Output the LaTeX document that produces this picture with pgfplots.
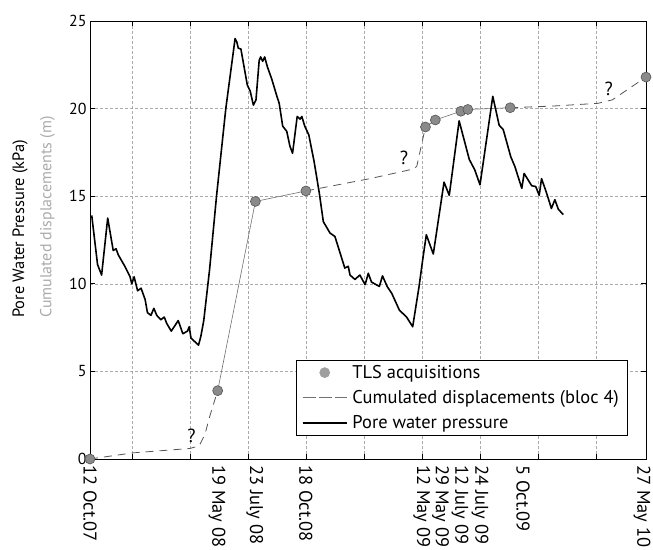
\documentclass[border=0pt]{standalone}
\usepackage{fontspec}
\setmainfont{PT Sans}
\usepackage{pgfplots}
\pgfplotsset{compat=1.18}
\definecolor{dotfill}{HTML}{8A8A8A}
\definecolor{dotedge}{HTML}{555555}
\definecolor{dispdash}{HTML}{555555}
\definecolor{dispsolid}{HTML}{707070}
\definecolor{gridc}{HTML}{AAAAAA}
\definecolor{lbgray}{HTML}{AAAAAA}
\begin{document}
\begin{tikzpicture}
\begin{axis}[
  scale only axis, width=556bp, height=438bp,
  xmin=0, xmax=958, ymin=0, ymax=25,
  clip=false,
  axis line style={black, line width=0.8bp},
  tick align=inside, major tick length=5bp,
  tick style={black, line width=0.6bp},
  xtick={73,173,273,373,473,573,673,773,873},
  xticklabels={},
  ytick={0,5,10,15,20,25},
  xmajorgrids, ymajorgrids,
  grid style={gridc, line width=0.5bp, dash pattern=on 3bp off 2bp},
  extra x ticks={0,219,284,372,571.5,604,637.5,672,746,951},
  extra x tick labels={12 Oct.07,19 May 08,23 July 08,18 Oct.08,12 May 09,29 May 09,12 July 09,24 July 09,5 Oct.09,27 May 10},
  extra x tick style={xmajorgrids=false, major tick length=0pt,
     tick label style={rotate=-90, anchor=west, xshift=6bp, inner sep=0pt, font=\fontsize{18.5}{19}\selectfont}},
  yticklabel style={font=\fontsize{16}{17}\selectfont},
  /pgf/number format/assume math mode=true,
  legend style={at={(0.966,0.226)}, anchor=north east, draw=black, line width=0.6bp,
     font=\fontsize{18.5}{19}\selectfont, cells={anchor=west}, inner xsep=6bp, inner ysep=3bp,
     nodes={inner xsep=2bp, inner ysep=2bp}, row sep=6.5bp, /tikz/column sep=3bp},
]
\addlegendimage{legend image code/.code={\fill[gray!75] (22bp,0bp) circle (5bp);}}
\addlegendentry{TLS acquisitions}
\addlegendimage{legend image code/.code={\draw[black!55, line width=0.7bp, dash pattern=on 13bp off 3bp] (0bp,0bp) -- (44bp,0bp);}}
\addlegendentry{Cumulated displacements (bloc 4)}
\addlegendimage{legend image code/.code={\draw[black, line width=1.5bp] (0bp,0bp) -- (44bp,0bp);}}
\addlegendentry{Pore water pressure}

% dashed (unknown) displacement segments
\addplot[forget plot, dispdash, line width=0.8bp, dash pattern=on 8bp off 6bp] coordinates {
(0,0.0) (74,0.35) (172,0.6) (188,0.75) (198,1.4) (206,2.4) (220,3.9)};
\addplot[forget plot, dispdash, line width=0.8bp, dash pattern=on 8bp off 6bp] coordinates {
(372,15.3) (482,16.0) (557,16.55) (563,16.7) (578,18.95)};
\addplot[forget plot, dispdash, line width=0.8bp, dash pattern=on 8bp off 6bp] coordinates {
(724,20.05) (800,20.15) (875,20.3) (900,20.5) (958,21.8)};
% measured displacement segments
\addplot[forget plot, dispsolid, line width=0.6bp] coordinates {
(220,3.9) (285,14.7) (372,15.3)};
\addplot[forget plot, dispsolid, line width=0.6bp] coordinates {
(578,18.95) (595,19.35) (639,19.85) (651,19.95) (724,20.05)};

% pore water pressure
\addplot[forget plot, black, line width=1.6bp, line join=round] coordinates {
(3,13.9) (13,11.1) (20,10.5) (30.5,13.75) (40,11.9) (44.8,12.0) (48.8,11.65) (60,11.0)
(69,10.4) (72,10.0) (76,10.4) (82,9.6) (88,9.75) (95,9.1) (99,8.35) (105,8.2) (110,8.6)
(115,8.2) (122,7.95) (128,8.1) (132,7.75) (140,7.3) (145,7.55) (152,7.9) (160,7.15)
(168,7.3) (171,7.55) (174,6.9) (187,6.5) (191,7.0) (196,7.9) (206,10.8) (218,15.0)
(234,20.0) (250,24.0) (253,23.8) (255.5,23.45) (260,23.4) (267,22.1) (271,21.35) (276,21.0)
(281.5,20.2) (286,20.5) (291.5,22.75) (294,22.95) (297.5,22.7) (301,22.95) (305.5,22.4)
(313,21.7) (323,20.6) (326,20.3) (332,19.0) (339,18.7) (344.5,17.85) (349,17.45) (357,19.55)
(362,19.4) (365,19.55) (370,19.0) (377,18.5) (386,17.0) (395,15.2) (402,13.55) (413.5,12.9)
(422,12.7) (431,11.75) (439,10.9) (445,11.0) (448,10.5) (456.5,10.25) (465,10.5) (474,9.95)
(479.5,10.6) (485,10.1) (498.5,9.85) (504,10.45) (512,9.85) (520,9.45) (533,8.5) (545.5,8.1)
(556,7.55) (567,9.85) (574,11.55) (579.5,12.8) (591.5,11.7) (610,15.8) (619,15.05) (636,19.3)
(653.5,17.1) (663,16.5) (672,15.65) (694,20.7) (705,19.05) (712,18.8) (725,17.25) (732,16.7)
(744,15.45) (748,16.3) (761,15.6) (768,15.55) (774,15.05) (778,16.0) (786,15.25) (795,14.3)
(801,14.8) (807,14.25) (815.5,13.95)};

% TLS acquisitions
\addplot[forget plot, only marks, mark=*, mark size=5bp, mark options={fill=dotfill, draw=dotedge, line width=0.6bp}] coordinates {
(0,0) (220,3.9) (285,14.7) (372,15.3) (578,18.95) (595,19.35) (639,19.85) (651,19.95) (724,20.05) (958,21.8)};

\node[font=\fontsize{19}{20}\selectfont] at (axis cs:175,1.3) {?};
\node[font=\fontsize{19}{20}\selectfont] at (axis cs:541,17.2) {?};
\node[font=\fontsize{19}{20}\selectfont] at (axis cs:894,21.1) {?};
\end{axis}
\node[rotate=90, anchor=west, inner sep=0pt, font=\fontsize{16.5}{17}\selectfont] at ([shift={(-70bp,141bp)}]current axis.south west) {Pore Water Pressure (kPa)};
\node[rotate=90, anchor=west, inner sep=0pt, text=lbgray, font=\fontsize{16}{17}\selectfont] at ([shift={(-42.5bp,141bp)}]current axis.south west) {Cumulated displacements (m)};
\pgfresetboundingbox
\path (current axis.south west) ++(-90bp,-91bp) rectangle ++(653bp,550bp);
\end{tikzpicture}
\end{document}
